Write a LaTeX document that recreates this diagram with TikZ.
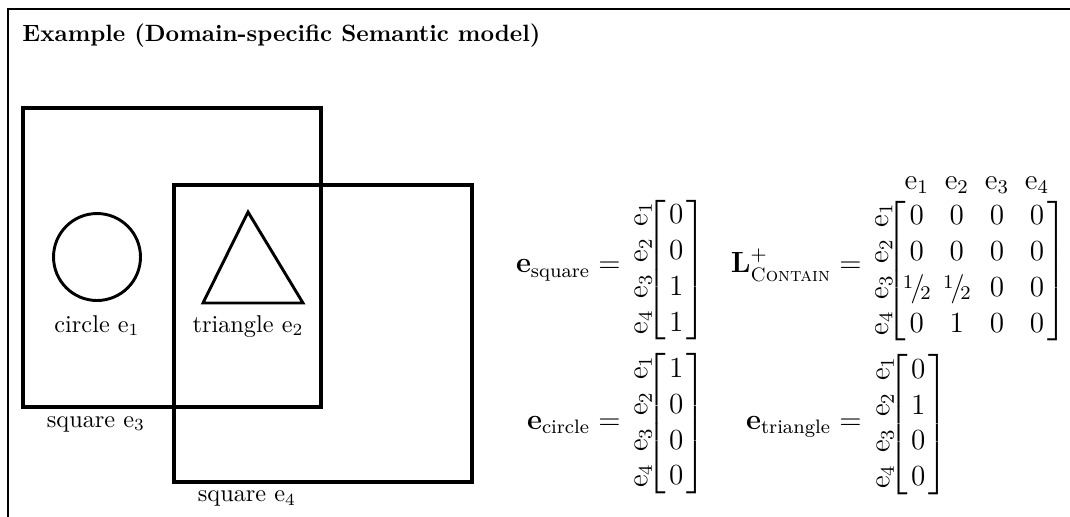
\documentclass[tikz,border=0pt]{standalone}
\usepackage{amsmath}
\usepackage{graphicx}
\usetikzlibrary{matrix,fit}

\newcommand{\rlab}[1]{\raisebox{-1.2pt}{\rotatebox{90}{$\mathrm{e}_{#1}$}}}
\newcommand{\halfe}{\mbox{\raisebox{.6ex}{\footnotesize 1}\kern-.1em/\kern-.15em\raisebox{-.25ex}{\footnotesize 2}}}

\tikzset{
	boxline/.style={ultra thick},
	shapeline/.style={very thick},
	lbl/.style={anchor=base, inner sep=0pt, font=\normalsize},
	eqlhs/.style={anchor=base east, inner sep=0pt},
	vecmat/.style={matrix of math nodes, inner sep=0pt, outer sep=0pt, row sep=4.3pt, column sep=7.1pt,
		nodes={inner sep=0pt, text height=8pt, text depth=2.5pt}},
	brack/.style={inner xsep=0pt, inner ysep=0.8pt, left delimiter={[}, right delimiter={]}},
}

\begin{document}
\begin{tikzpicture}[font=\large]
	\useasboundingbox (0,0) rectangle (15.475,-7.477);
	\draw[thick] (0.116,-7.477) -- (0.116,-0.13) -- (15.475,-0.13);
	\node[anchor=base west, inner sep=0pt, font=\fontsize{9.7pt}{12pt}\selectfont] (title) at (0.318,-0.607) {\textbf{Example (Domain-specific Semantic model)}};

	% shapes
	\draw[boxline] (0.333,-1.562) rectangle (4.643,-5.886);
	\draw[boxline] (2.517,-2.676) rectangle (6.827,-6.971);
	\draw[shapeline] (1.403,-3.717) circle (0.629);
	\draw[shapeline] (3.587,-3.066) -- (2.936,-4.382) -- (4.382,-4.382) -- cycle;
	\node[lbl] (circ) at (1.403,-4.802) {circle $\mathrm{e}_1$};
	\node[lbl] (tri) at (3.587,-4.802) {triangle $\mathrm{e}_2$};
	\node[lbl] (sqa) at (1.388,-6.176) {square $\mathrm{e}_3$};
	\node[lbl] (sqb) at (3.572,-7.260) {square $\mathrm{e}_4$};

	% vectors
	\node[eqlhs] (lsq) at (8.982,-3.948) {$\mathbf{e}_{\text{square}} =$};
	\matrix (msq) [vecmat, matrix anchor=east] at (9.883,-3.917) {
		\rlab{1} & 0 \\
		\rlab{2} & 0 \\
		\rlab{3} & 1 \\
		\rlab{4} & 1 \\
	};
	\node[brack, fit=(msq-1-2)(msq-4-2)] (bsq) {};

	\node[eqlhs] (lcirc) at (8.982,-6.205) {$\mathbf{e}_{\text{circle}} =$};
	\matrix (mcirc) [vecmat, matrix anchor=east] at (9.883,-6.137) {
		\rlab{1} & 1 \\
		\rlab{2} & 0 \\
		\rlab{3} & 0 \\
		\rlab{4} & 0 \\
	};
	\node[brack, fit=(mcirc-1-2)(mcirc-4-2)] (bcirc) {};

	\node[eqlhs] (ltri) at (12.467,-6.205) {$\mathbf{e}_{\text{triangle}} =$};
	\matrix (mtri) [vecmat, matrix anchor=east] at (13.382,-6.151) {
		\rlab{1} & 0 \\
		\rlab{2} & 1 \\
		\rlab{3} & 0 \\
		\rlab{4} & 0 \\
	};
	\node[brack, fit=(mtri-1-2)(mtri-4-2)] (btri) {};

	% contain matrix
	\node[eqlhs] (lcont) at (12.467,-3.948) {$\mathbf{L}^{+}_{\text{\textsc{Contain}}} =$};
	\matrix (mcont) [vecmat, column sep=3.5pt, nodes={minimum width=13pt}, column 1/.style={nodes={minimum width=0pt}},
		matrix anchor=south east] at (15.227,-4.896) {
		& \mathrm{e}_1 & \mathrm{e}_2 & \mathrm{e}_3 & \mathrm{e}_4 \\[-0.4pt]
		\rlab{1} & 0 & 0 & 0 & 0 \\
		\rlab{2} & 0 & 0 & 0 & 0 \\
		\rlab{3} & \halfe & \halfe & 0 & 0 \\
		\rlab{4} & 0 & 1 & 0 & 0 \\
	};
	\node[brack, inner xsep=-3.6pt, fit=(mcont-2-2)(mcont-5-5)] (bcont) {};
\end{tikzpicture}
\end{document}
